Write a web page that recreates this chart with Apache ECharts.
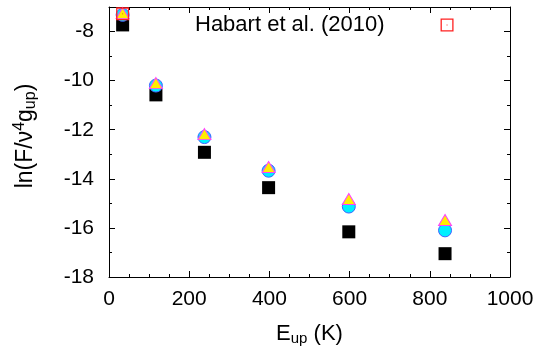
<!DOCTYPE html>
<html>
<head>
<meta charset="utf-8">
<script src="https://cdn.jsdelivr.net/npm/echarts@6/dist/echarts.min.js"></script>
<style>
  html, body { margin: 0; padding: 0; background: #fff; }
  #chart1 { width: 542px; height: 351px; }
</style>
</head>
<body>
<div id="chart1"></div>
<script>
// data
var eUp = [34, 117, 238, 398, 598, 838];
var blackVals = [-7.73, -10.58, -12.92, -14.36, -16.16, -17.05];
var circleVals = [-7.32, -10.2, -12.3, -13.67, -15.13, -16.1];
var triVals = [-7.25, -10.1, -12.18, -13.52, -14.82, -15.68];
var habartE = [34];
var habartVals = [-7.28];
var xTicks = [0, 200, 400, 600, 800, 1000];
var yTicks = [-18, -16, -14, -12, -10, -8];

function pairs(xs, ys) {
    return xs.map(function (x, i) { return [x, ys[i]]; });
}

var font = 'Liberation Sans, Arial, Helvetica, sans-serif';
var lineStyle = { color: '#000', width: 1 };

var myChart = echarts.init(document.getElementById("chart1"));
myChart.setOption({
    animation: false,
    textStyle: { fontFamily: font },
    grid: { left: 109, right: 32, top: 7, bottom: 74 },
    // 图例
    legend: {
        data: ['Habart et al. (2010)'],
        left: 195,
        top: 14,
        padding: 0,
        align: 'right',
        itemWidth: 13,
        itemHeight: 13,
        textStyle: { fontSize: 22, color: '#000', fontFamily: font, padding: [0, 51, 0, 0] }
    },
    xAxis: [{
        type: 'value',
        min: 0, max: 1000, interval: 200,
        name: '{t|E}{s|up}{t| (K)}',
        nameLocation: 'middle',
        nameGap: 44,
        nameTextStyle: {
            rich: {
                t: { fontSize: 22, fontFamily: font, color: '#000' },
                s: { fontSize: 15, fontFamily: font, color: '#000', padding: [10, 0, 0, 0] }
            }
        },
        axisLine: { show: true, onZero: false, lineStyle: lineStyle },
        axisTick: { inside: true, length: 6, lineStyle: lineStyle },
        minorTick: { show: true, splitNumber: 4, length: 3, lineStyle: lineStyle },
        axisLabel: {
            fontSize: 21, color: '#000', margin: 12,
            formatter: function (v) { return xTicks.indexOf(v) >= 0 ? String(v) : ''; }
        },
        splitLine: { show: false }
    }, {
        type: 'value', position: 'top',
        min: 0, max: 1000, interval: 200,
        axisLine: { show: true, onZero: false, lineStyle: lineStyle },
        axisTick: { inside: true, length: 6, lineStyle: lineStyle },
        minorTick: { show: true, splitNumber: 4, length: 3, lineStyle: lineStyle },
        axisLabel: { show: false },
        splitLine: { show: false }
    }],
    yAxis: [{
        type: 'value',
        min: -18, max: -7, interval: 2,
        name: '{t|ln(F/ν}{p|4}{t|g}{s|up}{t|)}',
        nameLocation: 'middle',
        nameGap: 69,
        nameTextStyle: {
            padding: [0, 0, 0, 12],
            rich: {
                t: { fontSize: 23, fontFamily: font, color: '#000' },
                p: { fontSize: 16, fontFamily: font, color: '#000', padding: [0, 0, 12, 0] },
                s: { fontSize: 16, fontFamily: font, color: '#000', padding: [10, 0, 0, 0] }
            }
        },
        axisLine: { show: true, onZero: false, lineStyle: lineStyle },
        axisTick: { inside: true, length: 6, lineStyle: lineStyle },
        minorTick: { show: true, splitNumber: 2, length: 3, lineStyle: lineStyle },
        axisLabel: {
            fontSize: 21, color: '#000', margin: 15,
            formatter: function (v) { return yTicks.indexOf(v) >= 0 ? String(v) : ''; }
        },
        splitLine: { show: false }
    }, {
        type: 'value', position: 'right',
        min: -18, max: -7, interval: 2,
        axisLine: { show: true, onZero: false, lineStyle: lineStyle },
        axisTick: { inside: true, length: 6, lineStyle: lineStyle },
        minorTick: { show: true, splitNumber: 2, length: 3, lineStyle: lineStyle },
        axisLabel: { show: false },
        splitLine: { show: false }
    }],
    // 数据
    series: [{
        name: 'black',
        type: 'scatter',
        clip: false,
        symbol: 'rect',
        symbolSize: 13,
        itemStyle: { color: '#000', opacity: 1 },
        data: pairs(eUp, blackVals)
    }, {
        name: 'circle',
        type: 'scatter',
        clip: false,
        symbol: 'circle',
        symbolSize: 13,
        itemStyle: { color: '#00f0ff', borderColor: '#4060ff', borderWidth: 1, opacity: 1 },
        data: pairs(eUp, circleVals)
    }, {
        name: 'triangle',
        type: 'scatter',
        clip: false,
        symbol: 'triangle',
        symbolSize: [13, 11],
        itemStyle: { color: '#ffee00', borderColor: '#ff40ff', borderWidth: 1, opacity: 1 },
        data: pairs(eUp, triVals)
    }, {
        name: 'Habart et al. (2010)',
        type: 'scatter',
        clip: false,
        symbol: 'path://M0,0H20V20H0Z M2,2V18H18V2Z M9.3,9.3H10.7V10.7H9.3Z',
        symbolSize: 13,
        itemStyle: { color: '#ff2020', opacity: 1 },
        data: pairs(habartE, habartVals)
    }]
});
</script>
</body>
</html>
